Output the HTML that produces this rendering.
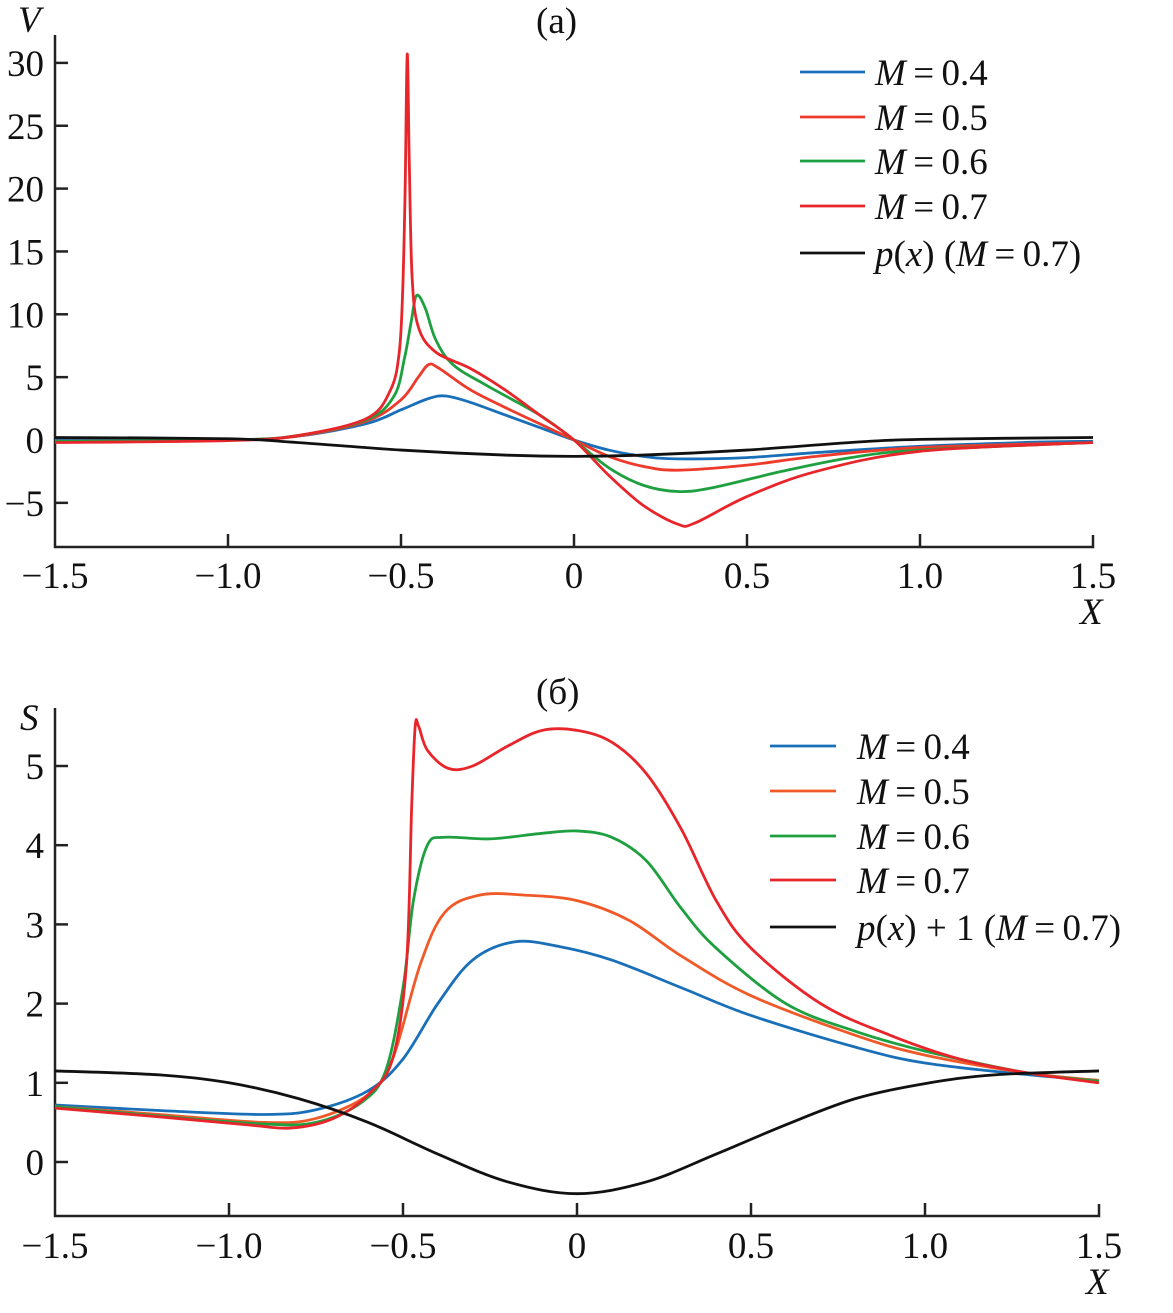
<!DOCTYPE html>
<html><head><meta charset="utf-8"><style>
body{margin:0;background:#fff}
svg text{font-family:"Liberation Serif","Times New Roman",serif;font-size:37px;fill:#111}
.i{font-style:italic}
</style></head><body>
<svg id="s" width="1173" height="1308" viewBox="0 0 1173 1308" xmlns="http://www.w3.org/2000/svg">
<g fill="none" stroke="#222" stroke-width="2.5">
<path d="M55,35 V547 H1093 V535"/>
<path d="M55,708 V1216 H1099 V1204"/>
</g>
<g id="ticks" stroke="#222" stroke-width="2.5"></g>
<g id="curves" fill="none" stroke-width="2.8" stroke-linejoin="round"></g>
<text class="i" x="18" y="32">V</text>
<text x="536" y="33">(a)</text>
<text class="i" x="1080" y="624">X</text>
<text x="536" y="704">(б)</text>
<text class="i" x="20" y="730">S</text>
<text class="i" x="1086" y="1294">X</text>
<g id="labels"></g>
</svg>
<script>
var NS="http://www.w3.org/2000/svg";
function el(p,t,a,txt){var e=document.createElementNS(NS,t);for(var k in a)e.setAttribute(k,a[k]);if(txt!=null)e.textContent=txt;document.getElementById(p).appendChild(e);}
var xl=["\u22121.5","\u22121.0","\u22120.5","0","0.5","1.0","1.5"];
var ax=function(x){return 574+346*x}, ay=function(v){return 440-12.57*v};
var bx=function(x){return 577+348*x}, by=function(v){return 1162-79.2*v};
for(var i=0;i<7;i++){var x=-1.5+0.5*i;
 if(i>0&&i<6){el("ticks","line",{x1:ax(x),x2:ax(x),y1:547,y2:534});el("ticks","line",{x1:bx(x),x2:bx(x),y1:1216,y2:1203});}
 el("labels","text",{x:ax(x),y:588,"text-anchor":"middle"},xl[i]);
 el("labels","text",{x:bx(x),y:1258,"text-anchor":"middle"},xl[i]);}
[-5,0,5,10,15,20,25,30].forEach(function(v){el("ticks","line",{x1:55,x2:68,y1:ay(v),y2:ay(v)});el("labels","text",{x:44,y:ay(v)+13,"text-anchor":"end"},v<0?"\u22125":v);});
[0,1,2,3,4,5].forEach(function(v){el("ticks","line",{x1:55,x2:68,y1:by(v),y2:by(v)});el("labels","text",{x:44,y:by(v)+13,"text-anchor":"end"},v);});
function path(pts,fx,fy,col){var P=pts.map(function(p){return[fx(p[0]),fy(p[1])]});var d="M"+P[0][0]+","+P[0][1];
 for(var i=0;i<P.length-1;i++){var p0=P[i-1]||P[i],p1=P[i],p2=P[i+1],p3=P[i+2]||p2;
 d+=" C"+(p1[0]+(p2[0]-p0[0])/6)+","+(p1[1]+(p2[1]-p0[1])/6)+" "+(p2[0]-(p3[0]-p1[0])/6)+","+(p2[1]-(p3[1]-p1[1])/6)+" "+p2[0]+","+p2[1];}
 el("curves","path",{d:d,stroke:col});}
var B="#1a70b8",O="#f05a28",G="#1fa040",R="#e8252a",K="#111";
path([[-1.5,0.1],[-1,0],[-0.8,0.3],[-0.6,1.3],[-0.5,2.4],[-0.42,3.3],[-0.37,3.5],[-0.3,3.0],[-0.2,2.0],[-0.1,1.0],[0,0],[0.1,-0.8],[0.2,-1.3],[0.3,-1.5],[0.5,-1.4],[0.7,-1.0],[1,-0.5],[1.3,-0.2],[1.5,-0.1]],ax,ay,B);
path([[-1.5,-0.1],[-1,0],[-0.8,0.3],[-0.6,1.5],[-0.5,3.2],[-0.45,5.0],[-0.42,6.0],[-0.39,5.7],[-0.3,4.0],[-0.2,2.6],[-0.1,1.3],[0,0],[0.1,-1.3],[0.2,-2.1],[0.3,-2.4],[0.5,-2.0],[0.7,-1.3],[1,-0.6],[1.5,-0.2]],ax,ay,"#ee3a2a");
path([[-1.5,-0.1],[-1,0],[-0.8,0.35],[-0.6,1.6],[-0.52,3.5],[-0.49,6.5],[-0.47,9.5],[-0.455,11.5],[-0.43,10.5],[-0.4,8],[-0.35,6],[-0.25,4.3],[-0.1,2],[0,0],[0.1,-2.2],[0.2,-3.6],[0.3,-4.1],[0.4,-3.8],[0.6,-2.5],[0.8,-1.4],[1,-0.8],[1.5,-0.2]],ax,ay,G);
path([[-1.5,-0.2],[-1,-0.05],[-0.8,0.35],[-0.6,1.7],[-0.53,4],[-0.505,7],[-0.495,12],[-0.488,20],[-0.482,30.7],[-0.476,22],[-0.468,13],[-0.45,9],[-0.4,7],[-0.3,5.7],[-0.2,4],[-0.1,2],[0,0],[0.1,-2.8],[0.2,-5.2],[0.3,-6.7],[0.35,-6.6],[0.5,-4.5],[0.7,-2.5],[1,-0.9],[1.5,-0.2]],ax,ay,R);
path([[-1.5,0.2],[-1,0.1],[-0.8,-0.2],[-0.5,-0.8],[-0.2,-1.2],[0,-1.3],[0.2,-1.2],[0.5,-0.8],[0.8,-0.2],[1,0.05],[1.5,0.2]],ax,ay,K);
path([[-1.5,0.72],[-1.2,0.65],[-0.9,0.6],[-0.75,0.66],[-0.6,0.9],[-0.5,1.3],[-0.4,2.0],[-0.3,2.55],[-0.18,2.78],[-0.05,2.72],[0.1,2.55],[0.3,2.2],[0.5,1.85],[0.8,1.45],[1,1.25],[1.3,1.1],[1.5,1.03]],bx,by,B);
path([[-1.5,0.7],[-1.2,0.6],[-0.9,0.5],[-0.75,0.55],[-0.6,0.85],[-0.53,1.3],[-0.45,2.5],[-0.38,3.15],[-0.28,3.37],[-0.15,3.37],[0,3.3],[0.15,3.05],[0.3,2.6],[0.5,2.1],[0.8,1.6],[1,1.35],[1.3,1.12],[1.5,1.03]],bx,by,O);
path([[-1.5,0.7],[-1.2,0.58],[-0.9,0.48],[-0.75,0.5],[-0.62,0.75],[-0.55,1.15],[-0.5,2.2],[-0.47,3.3],[-0.43,4.0],[-0.38,4.1],[-0.25,4.08],[-0.1,4.15],[0,4.18],[0.1,4.1],[0.2,3.8],[0.3,3.2],[0.4,2.7],[0.6,2.0],[0.8,1.65],[1,1.4],[1.3,1.12],[1.5,1.02]],bx,by,G);
path([[-1.5,0.68],[-1.2,0.57],[-0.95,0.47],[-0.82,0.43],[-0.7,0.55],[-0.6,0.85],[-0.53,1.3],[-0.49,2.5],[-0.475,4.5],[-0.465,5.5],[-0.455,5.5],[-0.43,5.2],[-0.37,4.97],[-0.3,5.0],[-0.2,5.25],[-0.1,5.45],[0,5.45],[0.1,5.3],[0.2,4.9],[0.3,4.2],[0.4,3.3],[0.5,2.7],[0.7,2.0],[0.9,1.6],[1.1,1.3],[1.3,1.12],[1.5,1.0]],bx,by,R);
path([[-1.5,1.15],[-1.2,1.1],[-1,1.0],[-0.8,0.8],[-0.6,0.5],[-0.4,0.1],[-0.2,-0.25],[0,-0.4],[0.2,-0.25],[0.4,0.1],[0.6,0.47],[0.8,0.8],[1,0.99],[1.2,1.1],[1.5,1.15]],bx,by,K);
function leg(x1,x2,tx,ys,cols,texts){ys.forEach(function(y,i){el("curves","line",{x1:x1,x2:x2,y1:y,y2:y,stroke:cols[i]});
 var g=document.createElementNS(NS,"text");g.setAttribute("x",tx);g.setAttribute("y",y+13);g.innerHTML=texts[i];document.getElementById("labels").appendChild(g);});}
var mt=function(v){return '<tspan class="i">M</tspan>\u2009=\u2009'+v};
leg(800,865,875,[72,117,161,206,253],[B,"#ee3a2a",G,R,K],[mt("0.4"),mt("0.5"),mt("0.6"),mt("0.7"),'<tspan class="i">p</tspan>(<tspan class="i">x</tspan>) (<tspan class="i">M</tspan>\u2009=\u20090.7)']);
leg(770,836,857,[746,791,836,880,927],[B,O,G,R,K],[mt("0.4"),mt("0.5"),mt("0.6"),mt("0.7"),'<tspan class="i">p</tspan>(<tspan class="i">x</tspan>) + 1 (<tspan class="i">M</tspan>\u2009=\u20090.7)']);
</script>
</body></html>
